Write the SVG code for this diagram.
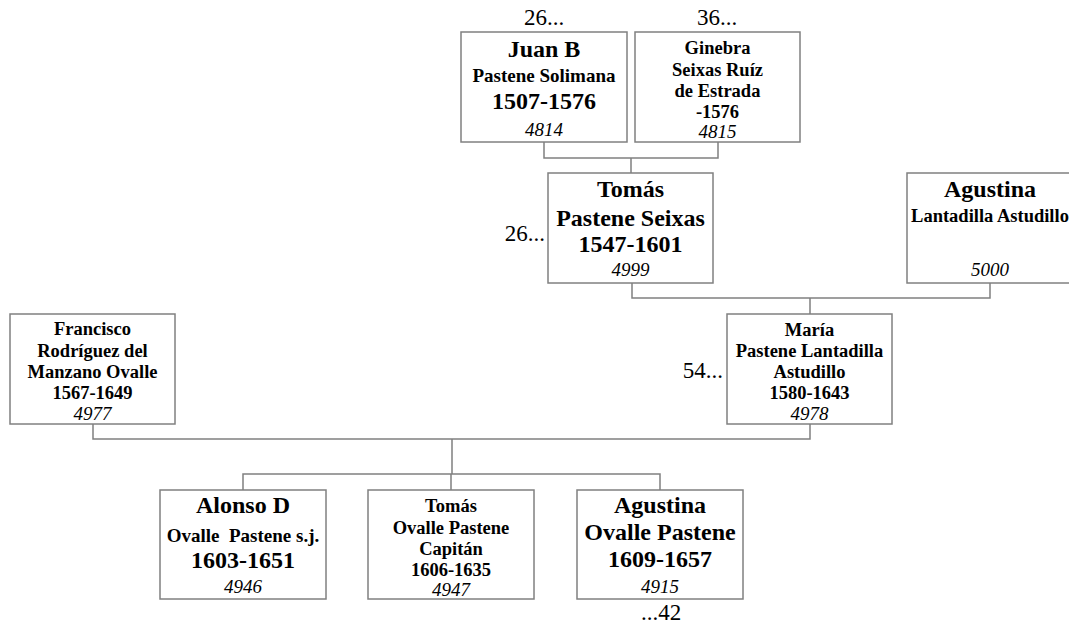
<svg xmlns="http://www.w3.org/2000/svg" width="1069" height="626" viewBox="0 0 1069 626">
<style>
text{font-family:"Liberation Serif","Times New Roman",serif;text-anchor:middle;fill:#000}
.box{fill:#fff;stroke:#808080;stroke-width:1.5}
.con{fill:none;stroke:#808080;stroke-width:1.5}
.b24{font-weight:bold;font-size:24px}
.b19{font-weight:bold;font-size:19px}
.b18{font-weight:bold;font-size:18.5px}
.id{font-style:italic;font-size:19px}
.ref{font-size:23px}
</style>
<rect width="1069" height="626" fill="#fff"/>
<g id="connectors">
<path class="con" d="M544,142 V158 H718 V142 M631,158 V173"/>
<path class="con" d="M632,283 V298 H990 V283 M810,298 V314"/>
<path class="con" d="M93,424 V439 H810 V424 M452,439 V474"/>
<path class="con" d="M243,490 V474 H660 V490 M451,474 V490"/>
</g>
<g id="juan">
<text class="ref" x="544" y="25">26...</text>
<rect class="box" x="461" y="32" width="166" height="110"/>
<text class="b24" x="544" y="57">Juan B</text>
<text class="b19" x="544" y="82">Pastene Solimana</text>
<text class="b24" x="544" y="109">1507-1576</text>
<text class="id" x="544" y="136">4814</text>
</g>
<g id="ginebra">
<text class="ref" x="717" y="25">36...</text>
<rect class="box" x="635" y="32" width="165" height="110"/>
<text class="b18" x="717.5" y="54">Ginebra</text>
<text class="b18" x="717.5" y="76">Seixas Ruíz</text>
<text class="b18" x="717.5" y="97">de Estrada</text>
<text class="b18" x="717.5" y="118">-1576</text>
<text class="id" x="717.5" y="138">4815</text>
</g>
<g id="tomas">
<text class="ref" x="545" y="241" style="text-anchor:end">26...</text>
<rect class="box" x="548" y="173" width="165" height="110"/>
<text class="b24" x="630.5" y="197">Tomás</text>
<text class="b24" x="630.5" y="226">Pastene Seixas</text>
<text class="b24" x="630.5" y="252">1547-1601</text>
<text class="id" x="630.5" y="276">4999</text>
</g>
<g id="agustina">
<rect class="box" x="907" y="173" width="166" height="110"/>
<text class="b24" x="990" y="197">Agustina</text>
<text class="b18" x="990" y="222">Lantadilla Astudillo</text>
<text class="id" x="990" y="276">5000</text>
</g>
<g id="francisco">
<rect class="box" x="10" y="314" width="165" height="110"/>
<text class="b18" x="92.5" y="335">Francisco</text>
<text class="b18" x="92.5" y="357">Rodríguez del</text>
<text class="b18" x="92.5" y="378">Manzano Ovalle</text>
<text class="b18" x="92.5" y="399">1567-1649</text>
<text class="id" x="92.5" y="420">4977</text>
</g>
<g id="maria">
<text class="ref" x="723" y="378" style="text-anchor:end">54...</text>
<rect class="box" x="727" y="314" width="165" height="110"/>
<text class="b18" x="809.5" y="336">María</text>
<text class="b18" x="809.5" y="357">Pastene Lantadilla</text>
<text class="b18" x="809.5" y="378">Astudillo</text>
<text class="b18" x="809.5" y="399">1580-1643</text>
<text class="id" x="809.5" y="420">4978</text>
</g>
<g id="alonso">
<rect class="box" x="160" y="490" width="166" height="109"/>
<text class="b24" x="243" y="513">Alonso D</text>
<text class="b19" x="243" y="542" xml:space="preserve">Ovalle  Pastene s.j.</text>
<text class="b24" x="243" y="568">1603-1651</text>
<text class="id" x="243" y="593">4946</text>
</g>
<g id="tomas2">
<rect class="box" x="368" y="490" width="166" height="109"/>
<text class="b18" x="451" y="512">Tomás</text>
<text class="b18" x="451" y="534">Ovalle Pastene</text>
<text class="b18" x="451" y="555">Capitán</text>
<text class="b18" x="451" y="576">1606-1635</text>
<text class="id" x="451" y="596">4947</text>
</g>
<g id="agustina2">
<rect class="box" x="577" y="490" width="166" height="109"/>
<text class="b24" x="660" y="513">Agustina</text>
<text class="b24" x="660" y="540">Ovalle Pastene</text>
<text class="b24" x="660" y="567">1609-1657</text>
<text class="id" x="660" y="593">4915</text>
<text class="ref" x="661" y="620">...42</text>
</g>
</svg>
